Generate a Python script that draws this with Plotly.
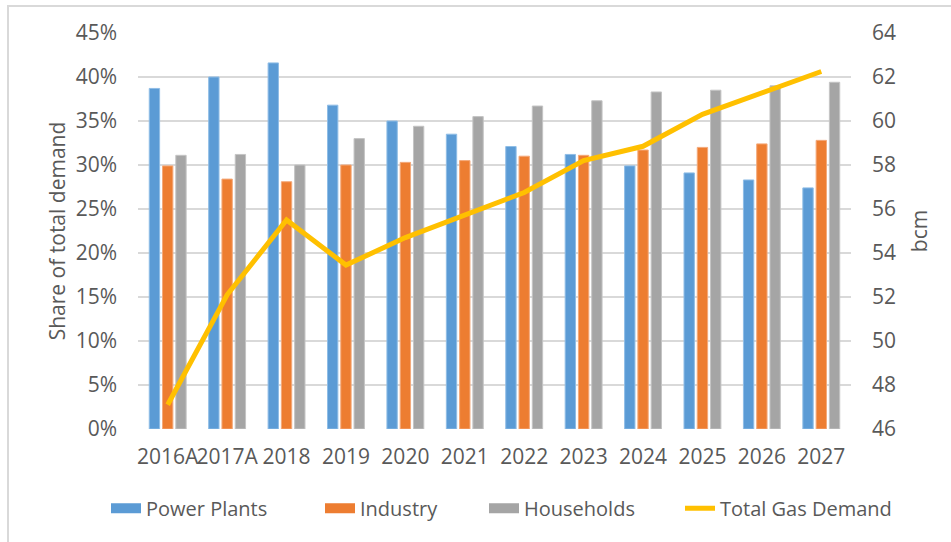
import plotly.graph_objects as go

categories = ["2016A", "2017A", "2018", "2019", "2020", "2021", "2022", "2023", "2024", "2025", "2026", "2027"]
power_plants = [0.387, 0.400, 0.416, 0.368, 0.350, 0.335, 0.321, 0.312, 0.299, 0.291, 0.283, 0.274]
industry = [0.299, 0.284, 0.281, 0.300, 0.303, 0.305, 0.310, 0.311, 0.317, 0.320, 0.324, 0.328]
households = [0.311, 0.312, 0.300, 0.330, 0.344, 0.355, 0.367, 0.373, 0.383, 0.385, 0.390, 0.394]
total_gas_demand = [47.1, 52.1, 55.5, 53.45, 54.7, 55.7, 56.75, 58.2, 58.85, 60.3, 61.25, 62.25]

left_ticks = [0, 0.05, 0.10, 0.15, 0.20, 0.25, 0.30, 0.35, 0.40, 0.45]
right_ticks = [46, 48, 50, 52, 54, 56, 58, 60, 62, 64]

FONT = "Open Sans"
TXT = "#595959"
GRID = "#D9D9D9"
TICK = 21
LEG = 20

BLUE, ORANGE, GRAY, GOLD = "#5B9BD5", "#ED7D31", "#A5A5A5", "#FFC000"

fig = go.Figure()
fig.add_trace(go.Bar(name="Power Plants", x=categories, y=power_plants, showlegend=False,
                     marker=dict(color=BLUE, line=dict(color="#8FBDE6", width=1)), yaxis="y"))
fig.add_trace(go.Bar(name="Industry", x=categories, y=industry, showlegend=False,
                     marker=dict(color=ORANGE, line=dict(color="#F4A97A", width=1)), yaxis="y"))
fig.add_trace(go.Bar(name="Households", x=categories, y=households, showlegend=False,
                     marker=dict(color=GRAY, line=dict(color="#C4C4C4", width=1)), yaxis="y"))
fig.add_trace(go.Scatter(name="Total Gas Demand", x=categories, y=total_gas_demand, mode="lines",
                         line=dict(color=GOLD, width=5), yaxis="y2", legend="legend4"))

# legend swatches (wide rectangles like the original)
for name, col, leg in [("Power Plants", BLUE, "legend"), ("Industry", ORANGE, "legend2"),
                       ("Households", GRAY, "legend3")]:
    fig.add_trace(go.Scatter(name=name, x=[None], y=[None], mode="lines",
                             line=dict(color=col, width=13), yaxis="y", legend=leg,
                             hoverinfo="skip"))

def px2paper(px):
    return (px - 138) / 713

leg_common = dict(orientation="h", xanchor="left", y=-0.20, yanchor="middle",
                  font=dict(family=FONT, size=LEG, color=TXT), bgcolor="rgba(0,0,0,0)")

fig.update_layout(
    width=951, height=542,
    margin=dict(l=138, r=100, t=33, b=113),
    paper_bgcolor="white", plot_bgcolor="white",
    font=dict(family=FONT, size=TICK, color=TXT),
    barmode="group", bargap=0.33, bargroupgap=0.22,
    showlegend=True,
    legend=dict(x=px2paper(106), **leg_common),
    legend2=dict(x=px2paper(320), **leg_common),
    legend3=dict(x=px2paper(484), **leg_common),
    legend4=dict(x=px2paper(680), **leg_common),
    xaxis=dict(type="category", showgrid=False, showline=False, ticks="", tickangle=0,
               tickfont=dict(family=FONT, size=TICK, color=TXT), ticklabelstandoff=13),
    yaxis=dict(range=[0, 0.45], tickvals=left_ticks, tickformat=".0%",
               showgrid=True, gridcolor=GRID, gridwidth=2, zeroline=False, showline=False,
               ticks="", ticklabelstandoff=20,
               title=dict(text="Share of total demand", font=dict(family=FONT, size=TICK, color=TXT), standoff=4),
               tickfont=dict(family=FONT, size=TICK, color=TXT)),
    yaxis2=dict(range=[46, 64], tickvals=right_ticks, overlaying="y", side="right",
                showgrid=False, zeroline=False, showline=False, ticks="", ticklabelstandoff=20,
                title=dict(text="bcm", font=dict(family=FONT, size=TICK, color=TXT), standoff=17),
                tickfont=dict(family=FONT, size=TICK, color=TXT)),
    shapes=[dict(type="rect", xref="paper", yref="paper",
                 x0=px2paper(8), x1=px2paper(960),
                 y0=(429 - 548) / 396, y1=(429 - 6) / 396,
                 line=dict(color=GRID, width=2), fillcolor="rgba(0,0,0,0)", layer="below")],
)

fig.write_html("out.html", config={"displayModeBar": False},
               post_script="document.body.style.margin='0';document.body.style.padding='0';")
